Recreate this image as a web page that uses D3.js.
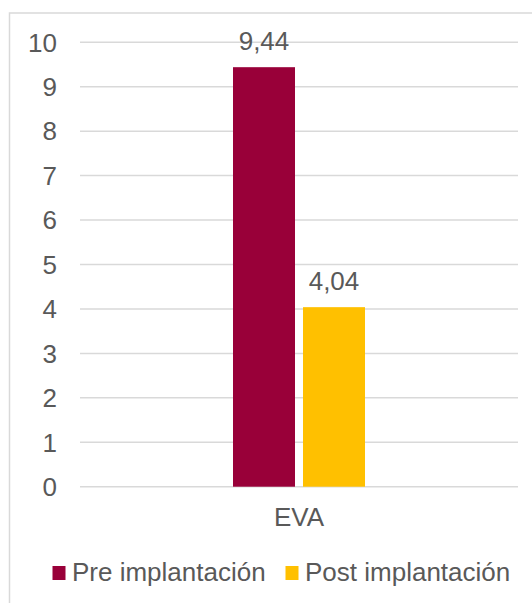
<!DOCTYPE html>
<html>
<head>
<meta charset="utf-8">
<script src="https://cdn.jsdelivr.net/npm/d3@7"></script>
<style>
  body { margin: 0; background: #fff; }
  text { font-family: "Liberation Sans", Arial, sans-serif; fill: #595959; }
</style>
</head>
<body>
<div id="chart"></div>
<script>
var width = 532, height = 603;

// Data
var categories = ["EVA"];
var seriesNames = ["Pre implantación", "Post implantación"];
var seriesValues = [9.44, 4.04];
var seriesColors = ["#990039", "#FFC000"];
var yTicks = [0, 1, 2, 3, 4, 5, 6, 7, 8, 9, 10];

var margin = {left: 80, right: 14, top: 42.3, bottom: 116.3};
var plotW = width - margin.left - margin.right;
var plotH = height - margin.top - margin.bottom;

var svg = d3.select("#chart").append("svg")
    .attr("width", width)
    .attr("height", height);

// outer chart border (cropped at right and bottom)
svg.append("rect")
    .attr("x", 9.5).attr("y", 13)
    .attr("width", 700).attr("height", 700)
    .attr("fill", "none")
    .attr("stroke", "#d9d9d9")
    .attr("stroke-width", 1.5);

var g = svg.append("g").attr("transform", "translate(" + margin.left + "," + margin.top + ")");

var y = d3.scaleLinear().domain([0, 10]).range([plotH, 0]);

var x0 = d3.scaleBand().domain(categories).range([0, plotW])
    .paddingInner(0).paddingOuter(1.159);
var x1 = d3.scaleBand().domain(seriesNames).range([0, x0.bandwidth()])
    .paddingInner(8 / 70).paddingOuter(0);

// gridlines
g.selectAll(".grid").data(yTicks).enter().append("line")
    .attr("class", "grid")
    .attr("x1", 0).attr("x2", plotW)
    .attr("y1", function(d) { return y(d); })
    .attr("y2", function(d) { return y(d); })
    .attr("stroke", "#d9d9d9")
    .attr("stroke-width", 1.5);

// y tick labels
g.selectAll(".ytick").data(yTicks).enter().append("text")
    .attr("class", "ytick")
    .attr("x", -23)
    .attr("y", function(d) { return y(d) + 9.3; })
    .attr("text-anchor", "end")
    .style("font-size", "26px")
    .text(function(d) { return d; });

// bars
var groups = g.selectAll(".cat").data(categories).enter().append("g")
    .attr("transform", function(d) { return "translate(" + x0(d) + ",0)"; });

var rows = seriesNames.map(function(s, i) {
    return {name: s, value: seriesValues[i], color: seriesColors[i]};
});

groups.selectAll("rect").data(rows).enter().append("rect")
    .attr("x", function(d) { return x1(d.name); })
    .attr("y", function(d) { return y(d.value); })
    .attr("width", x1.bandwidth())
    .attr("height", function(d) { return y(0) - y(d.value); })
    .attr("fill", function(d) { return d.color; });

// value labels
groups.selectAll(".vlabel").data(rows).enter().append("text")
    .attr("class", "vlabel")
    .attr("x", function(d) { return x1(d.name) + x1.bandwidth() / 2; })
    .attr("y", function(d) { return y(d.value) - 17; })
    .attr("text-anchor", "middle")
    .style("font-size", "26px")
    .text(function(d) { return d.value.toFixed(2).replace(".", ","); });

// category label
g.selectAll(".xlabel").data(categories).enter().append("text")
    .attr("class", "xlabel")
    .attr("x", function(d) { return x0(d) + x0.bandwidth() / 2; })
    .attr("y", plotH + 39)
    .attr("text-anchor", "middle")
    .style("font-size", "26px")
    .text(function(d) { return d; });

// legend
var legendX = [52.5, 285.5];
var legend = svg.selectAll(".legend").data(rows).enter().append("g")
    .attr("class", "legend")
    .attr("transform", function(d, i) { return "translate(" + legendX[i] + ",566)"; });
legend.append("rect")
    .attr("width", 13).attr("height", 14)
    .attr("fill", function(d) { return d.color; });
legend.append("text")
    .attr("x", 19.5)
    .attr("y", 15)
    .style("font-size", "26px")
    .text(function(d) { return d.name; });
</script>
</body>
</html>
